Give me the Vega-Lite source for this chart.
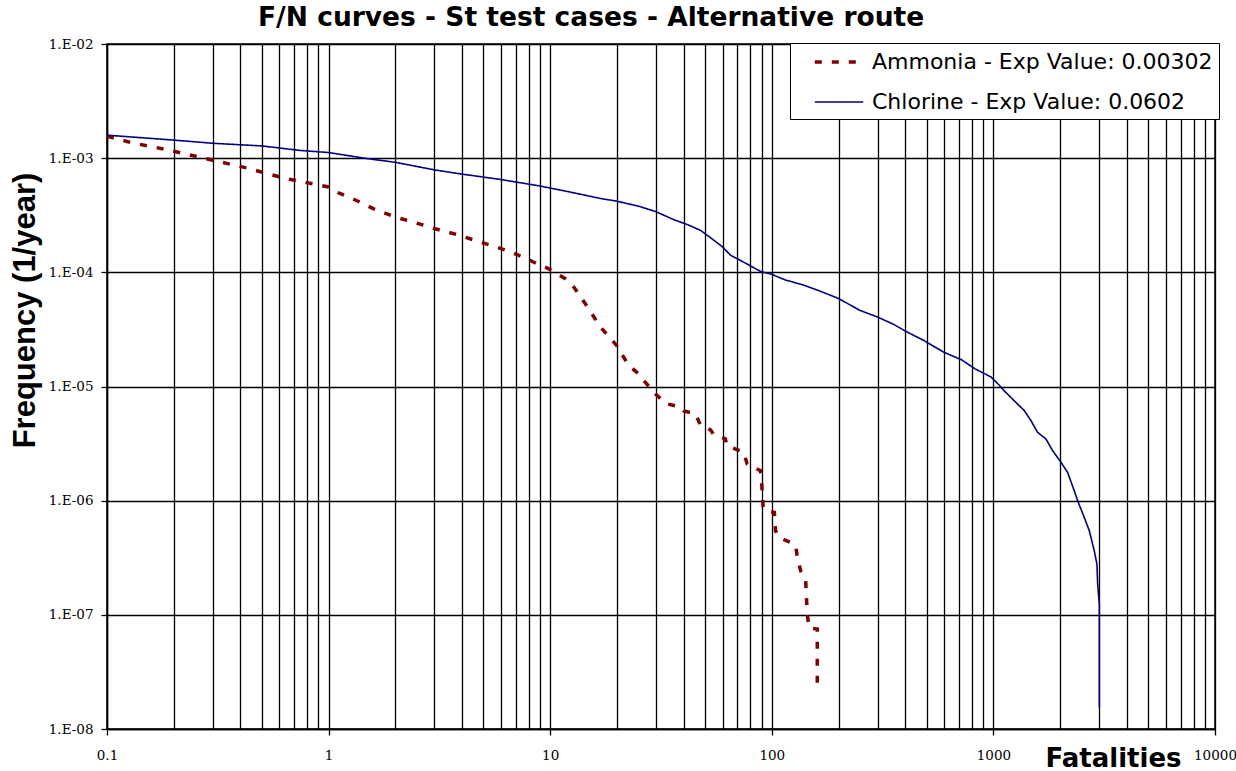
{
  "$schema": "https://vega.github.io/schema/vega-lite/v6.json",
  "width": 1108,
  "height": 685,
  "autosize": {"type": "none"},
  "padding": {"left": 107, "top": 44, "right": 21, "bottom": 42},
  "background": "white",
  "title": {
    "text": "F/N curves - St test cases - Alternative route",
    "anchor": "start",
    "frame": "group",
    "dx": 151,
    "dy": 33,
    "offset": 18,
    "baseline": "alphabetic",
    "font": "DejaVu Sans",
    "fontSize": 26.5,
    "fontWeight": "bold",
    "color": "black"
  },
  "config": {
    "view": {"stroke": "black", "strokeWidth": 1.5},
    "axis": {
      "domainColor": "black",
      "domainWidth": 1.5,
      "tickColor": "black",
      "tickWidth": 1.3,
      "tickSize": 6,
      "grid": true,
      "gridColor": "black",
      "gridOpacity": 1,
      "gridWidth": 1.3,
      "labelFont": "DejaVu Serif",
      "labelFontSize": 13.5,
      "labelColor": "black",
      "labelOverlap": false,
      "labelFlush": false,
      "titleColor": "black"
    }
  },
  "data": {
    "values": [
      {"series": "Ammonia - Exp Value: 0.00302", "i": 1, "n": 0.1, "f": 0.00156},
      {"series": "Ammonia - Exp Value: 0.00302", "i": 2, "n": 0.13, "f": 0.00136},
      {"series": "Ammonia - Exp Value: 0.00302", "i": 3, "n": 0.16, "f": 0.00126},
      {"series": "Ammonia - Exp Value: 0.00302", "i": 4, "n": 0.2, "f": 0.00115},
      {"series": "Ammonia - Exp Value: 0.00302", "i": 5, "n": 0.24, "f": 0.00106},
      {"series": "Ammonia - Exp Value: 0.00302", "i": 6, "n": 0.3, "f": 0.00096},
      {"series": "Ammonia - Exp Value: 0.00302", "i": 7, "n": 0.36, "f": 0.000885},
      {"series": "Ammonia - Exp Value: 0.00302", "i": 8, "n": 0.44, "f": 0.00081},
      {"series": "Ammonia - Exp Value: 0.00302", "i": 9, "n": 0.53, "f": 0.00073},
      {"series": "Ammonia - Exp Value: 0.00302", "i": 10, "n": 0.65, "f": 0.00066},
      {"series": "Ammonia - Exp Value: 0.00302", "i": 11, "n": 0.8, "f": 0.00061},
      {"series": "Ammonia - Exp Value: 0.00302", "i": 12, "n": 1.0, "f": 0.00056},
      {"series": "Ammonia - Exp Value: 0.00302", "i": 13, "n": 1.1, "f": 0.0005},
      {"series": "Ammonia - Exp Value: 0.00302", "i": 14, "n": 1.32, "f": 0.00043},
      {"series": "Ammonia - Exp Value: 0.00302", "i": 15, "n": 1.6, "f": 0.00036},
      {"series": "Ammonia - Exp Value: 0.00302", "i": 16, "n": 2.0, "f": 0.000305},
      {"series": "Ammonia - Exp Value: 0.00302", "i": 17, "n": 2.4, "f": 0.000276},
      {"series": "Ammonia - Exp Value: 0.00302", "i": 18, "n": 3.0, "f": 0.000242},
      {"series": "Ammonia - Exp Value: 0.00302", "i": 19, "n": 3.9, "f": 0.000211},
      {"series": "Ammonia - Exp Value: 0.00302", "i": 20, "n": 4.8, "f": 0.000185},
      {"series": "Ammonia - Exp Value: 0.00302", "i": 21, "n": 5.8, "f": 0.000165},
      {"series": "Ammonia - Exp Value: 0.00302", "i": 22, "n": 6.8, "f": 0.000148},
      {"series": "Ammonia - Exp Value: 0.00302", "i": 23, "n": 7.8, "f": 0.000132},
      {"series": "Ammonia - Exp Value: 0.00302", "i": 24, "n": 8.7, "f": 0.000119},
      {"series": "Ammonia - Exp Value: 0.00302", "i": 25, "n": 9.8, "f": 0.000108},
      {"series": "Ammonia - Exp Value: 0.00302", "i": 26, "n": 11.7, "f": 0.000088},
      {"series": "Ammonia - Exp Value: 0.00302", "i": 27, "n": 12.8, "f": 0.000074},
      {"series": "Ammonia - Exp Value: 0.00302", "i": 28, "n": 14.7, "f": 0.00005},
      {"series": "Ammonia - Exp Value: 0.00302", "i": 29, "n": 16.9, "f": 0.000033},
      {"series": "Ammonia - Exp Value: 0.00302", "i": 30, "n": 19.9, "f": 0.000023},
      {"series": "Ammonia - Exp Value: 0.00302", "i": 31, "n": 22.6, "f": 0.0000153},
      {"series": "Ammonia - Exp Value: 0.00302", "i": 32, "n": 25.1, "f": 0.0000129},
      {"series": "Ammonia - Exp Value: 0.00302", "i": 33, "n": 26.4, "f": 0.0000113},
      {"series": "Ammonia - Exp Value: 0.00302", "i": 34, "n": 29.9, "f": 0.0000086},
      {"series": "Ammonia - Exp Value: 0.00302", "i": 35, "n": 33.1, "f": 0.0000071},
      {"series": "Ammonia - Exp Value: 0.00302", "i": 36, "n": 38.7, "f": 0.0000066},
      {"series": "Ammonia - Exp Value: 0.00302", "i": 37, "n": 40.1, "f": 0.0000061},
      {"series": "Ammonia - Exp Value: 0.00302", "i": 38, "n": 45.3, "f": 0.00000575},
      {"series": "Ammonia - Exp Value: 0.00302", "i": 39, "n": 47.7, "f": 0.00000455},
      {"series": "Ammonia - Exp Value: 0.00302", "i": 40, "n": 52.9, "f": 0.00000417},
      {"series": "Ammonia - Exp Value: 0.00302", "i": 41, "n": 54.7, "f": 0.0000038},
      {"series": "Ammonia - Exp Value: 0.00302", "i": 42, "n": 61.7, "f": 0.00000348},
      {"series": "Ammonia - Exp Value: 0.00302", "i": 43, "n": 62.8, "f": 0.00000303},
      {"series": "Ammonia - Exp Value: 0.00302", "i": 44, "n": 74.7, "f": 0.00000265},
      {"series": "Ammonia - Exp Value: 0.00302", "i": 45, "n": 77.4, "f": 0.0000021},
      {"series": "Ammonia - Exp Value: 0.00302", "i": 46, "n": 88.9, "f": 0.00000183},
      {"series": "Ammonia - Exp Value: 0.00302", "i": 47, "n": 90.0, "f": 0.0000015},
      {"series": "Ammonia - Exp Value: 0.00302", "i": 48, "n": 90.4, "f": 0.00000122},
      {"series": "Ammonia - Exp Value: 0.00302", "i": 49, "n": 91.4, "f": 0.00000087},
      {"series": "Ammonia - Exp Value: 0.00302", "i": 50, "n": 93.6, "f": 0.00000082},
      {"series": "Ammonia - Exp Value: 0.00302", "i": 51, "n": 102.7, "f": 0.00000079},
      {"series": "Ammonia - Exp Value: 0.00302", "i": 52, "n": 103.9, "f": 0.000000546},
      {"series": "Ammonia - Exp Value: 0.00302", "i": 53, "n": 107.6, "f": 0.000000478},
      {"series": "Ammonia - Exp Value: 0.00302", "i": 54, "n": 121.6, "f": 0.00000043},
      {"series": "Ammonia - Exp Value: 0.00302", "i": 55, "n": 128.2, "f": 0.000000403},
      {"series": "Ammonia - Exp Value: 0.00302", "i": 56, "n": 130.4, "f": 0.000000318},
      {"series": "Ammonia - Exp Value: 0.00302", "i": 57, "n": 135, "f": 0.000000243},
      {"series": "Ammonia - Exp Value: 0.00302", "i": 58, "n": 142.2, "f": 0.000000199},
      {"series": "Ammonia - Exp Value: 0.00302", "i": 59, "n": 144.6, "f": 0.000000101},
      {"series": "Ammonia - Exp Value: 0.00302", "i": 60, "n": 147.1, "f": 0.000000077},
      {"series": "Ammonia - Exp Value: 0.00302", "i": 61, "n": 160.4, "f": 0.000000075},
      {"series": "Ammonia - Exp Value: 0.00302", "i": 62, "n": 160.4, "f": 0.0000000246},
      {"series": "Chlorine - Exp Value: 0.0602", "i": 1, "n": 0.1, "f": 0.00159},
      {"series": "Chlorine - Exp Value: 0.0602", "i": 2, "n": 0.2, "f": 0.00144},
      {"series": "Chlorine - Exp Value: 0.0602", "i": 3, "n": 0.3, "f": 0.00135},
      {"series": "Chlorine - Exp Value: 0.0602", "i": 4, "n": 0.5, "f": 0.00128},
      {"series": "Chlorine - Exp Value: 0.0602", "i": 5, "n": 0.74, "f": 0.00117},
      {"series": "Chlorine - Exp Value: 0.0602", "i": 6, "n": 1.0, "f": 0.00112},
      {"series": "Chlorine - Exp Value: 0.0602", "i": 7, "n": 1.5, "f": 0.00099},
      {"series": "Chlorine - Exp Value: 0.0602", "i": 8, "n": 2.0, "f": 0.00092},
      {"series": "Chlorine - Exp Value: 0.0602", "i": 9, "n": 3.0, "f": 0.00079},
      {"series": "Chlorine - Exp Value: 0.0602", "i": 10, "n": 3.9, "f": 0.00073},
      {"series": "Chlorine - Exp Value: 0.0602", "i": 11, "n": 6.0, "f": 0.00065},
      {"series": "Chlorine - Exp Value: 0.0602", "i": 12, "n": 9.0, "f": 0.00057},
      {"series": "Chlorine - Exp Value: 0.0602", "i": 13, "n": 12, "f": 0.00051},
      {"series": "Chlorine - Exp Value: 0.0602", "i": 14, "n": 16.9, "f": 0.000443},
      {"series": "Chlorine - Exp Value: 0.0602", "i": 15, "n": 20, "f": 0.00042},
      {"series": "Chlorine - Exp Value: 0.0602", "i": 16, "n": 25, "f": 0.00038},
      {"series": "Chlorine - Exp Value: 0.0602", "i": 17, "n": 30, "f": 0.00034},
      {"series": "Chlorine - Exp Value: 0.0602", "i": 18, "n": 36, "f": 0.00029},
      {"series": "Chlorine - Exp Value: 0.0602", "i": 19, "n": 42, "f": 0.00026},
      {"series": "Chlorine - Exp Value: 0.0602", "i": 20, "n": 47.7, "f": 0.000233},
      {"series": "Chlorine - Exp Value: 0.0602", "i": 21, "n": 54, "f": 0.000195},
      {"series": "Chlorine - Exp Value: 0.0602", "i": 22, "n": 59.7, "f": 0.000168},
      {"series": "Chlorine - Exp Value: 0.0602", "i": 23, "n": 65.2, "f": 0.000141},
      {"series": "Chlorine - Exp Value: 0.0602", "i": 24, "n": 72.3, "f": 0.000127},
      {"series": "Chlorine - Exp Value: 0.0602", "i": 25, "n": 88.9, "f": 0.000102},
      {"series": "Chlorine - Exp Value: 0.0602", "i": 26, "n": 100, "f": 0.000096},
      {"series": "Chlorine - Exp Value: 0.0602", "i": 27, "n": 114.6, "f": 0.000086},
      {"series": "Chlorine - Exp Value: 0.0602", "i": 28, "n": 140, "f": 0.000077},
      {"series": "Chlorine - Exp Value: 0.0602", "i": 29, "n": 165, "f": 0.0000685},
      {"series": "Chlorine - Exp Value: 0.0602", "i": 30, "n": 200, "f": 0.000059},
      {"series": "Chlorine - Exp Value: 0.0602", "i": 31, "n": 250, "f": 0.0000464},
      {"series": "Chlorine - Exp Value: 0.0602", "i": 32, "n": 300, "f": 0.0000406},
      {"series": "Chlorine - Exp Value: 0.0602", "i": 33, "n": 355, "f": 0.000035},
      {"series": "Chlorine - Exp Value: 0.0602", "i": 34, "n": 400, "f": 0.0000306},
      {"series": "Chlorine - Exp Value: 0.0602", "i": 35, "n": 485, "f": 0.0000253},
      {"series": "Chlorine - Exp Value: 0.0602", "i": 36, "n": 596, "f": 0.00002},
      {"series": "Chlorine - Exp Value: 0.0602", "i": 37, "n": 720, "f": 0.0000171},
      {"series": "Chlorine - Exp Value: 0.0602", "i": 38, "n": 825, "f": 0.0000143},
      {"series": "Chlorine - Exp Value: 0.0602", "i": 39, "n": 977, "f": 0.0000121},
      {"series": "Chlorine - Exp Value: 0.0602", "i": 40, "n": 1066, "f": 0.0000102},
      {"series": "Chlorine - Exp Value: 0.0602", "i": 41, "n": 1117, "f": 0.0000092},
      {"series": "Chlorine - Exp Value: 0.0602", "i": 42, "n": 1241, "f": 0.0000075},
      {"series": "Chlorine - Exp Value: 0.0602", "i": 43, "n": 1377, "f": 0.00000617},
      {"series": "Chlorine - Exp Value: 0.0602", "i": 44, "n": 1476, "f": 0.00000504},
      {"series": "Chlorine - Exp Value: 0.0602", "i": 45, "n": 1582, "f": 0.00000397},
      {"series": "Chlorine - Exp Value: 0.0602", "i": 46, "n": 1726, "f": 0.00000347},
      {"series": "Chlorine - Exp Value: 0.0602", "i": 47, "n": 1849, "f": 0.00000275},
      {"series": "Chlorine - Exp Value: 0.0602", "i": 48, "n": 2017, "f": 0.00000217},
      {"series": "Chlorine - Exp Value: 0.0602", "i": 49, "n": 2162, "f": 0.00000177},
      {"series": "Chlorine - Exp Value: 0.0602", "i": 50, "n": 2317, "f": 0.00000122},
      {"series": "Chlorine - Exp Value: 0.0602", "i": 51, "n": 2399, "f": 0.000001},
      {"series": "Chlorine - Exp Value: 0.0602", "i": 52, "n": 2570, "f": 0.000000714},
      {"series": "Chlorine - Exp Value: 0.0602", "i": 53, "n": 2708, "f": 0.000000546},
      {"series": "Chlorine - Exp Value: 0.0602", "i": 54, "n": 2852, "f": 0.000000364},
      {"series": "Chlorine - Exp Value: 0.0602", "i": 55, "n": 2932, "f": 0.000000278},
      {"series": "Chlorine - Exp Value: 0.0602", "i": 56, "n": 2954, "f": 0.000000186},
      {"series": "Chlorine - Exp Value: 0.0602", "i": 57, "n": 3007, "f": 0.000000124},
      {"series": "Chlorine - Exp Value: 0.0602", "i": 58, "n": 3007, "f": 0.0000000483},
      {"series": "Chlorine - Exp Value: 0.0602", "i": 59, "n": 3007, "f": 0.0000000154}
    ]
  },
  "mark": {"type": "line", "interpolate": "linear", "clip": true},
  "encoding": {
    "x": {
      "field": "n",
      "type": "quantitative",
      "scale": {"type": "log", "domain": [0.1, 10000], "nice": false},
      "axis": {
        "values": [0.1, 0.2, 0.3, 0.4, 0.5, 0.6, 0.7, 0.8, 0.9, 1, 2, 3, 4, 5, 6, 7, 8, 9, 10, 20, 30, 40, 50, 60, 70, 80, 90, 100, 200, 300, 400, 500, 600, 700, 800, 900, 1000, 2000, 3000, 4000, 5000, 6000, 7000, 8000, 9000, 10000],
        "labelExpr": "abs(log(datum.value)/LN10 - round(log(datum.value)/LN10)) < 0.001 ? (datum.value < 1 ? '0.1' : format(datum.value, 'd')) : ''",
        "tickOpacity": {"condition": {"test": "abs(log(datum.value)/LN10 - round(log(datum.value)/LN10)) < 0.001", "value": 1}, "value": 0},
        "labelPadding": 13,
        "title": "Fatalities",
        "titleFont": "DejaVu Sans",
        "titleFontSize": 26,
        "titleFontWeight": "bold",
        "titleX": 1006,
        "titleY": 37,
        "titleAlign": "center",
        "titleBaseline": "alphabetic"
      }
    },
    "y": {
      "field": "f",
      "type": "quantitative",
      "scale": {"type": "log", "domain": [1e-8, 0.01], "nice": false},
      "axis": {
        "values": [1e-8, 1e-7, 1e-6, 1e-5, 1e-4, 0.001, 0.01],
        "labelExpr": "'1.E-0' + round(-log(datum.value)/LN10)",
        "labelPadding": 8,
        "title": "Frequency (1/year)",
        "titleFont": "Liberation Sans",
        "titleFontSize": 31,
        "titleFontWeight": "bold",
        "titleAngle": 270,
        "titleX": -73,
        "titleY": 266,
        "titleAlign": "center",
        "titleBaseline": "alphabetic"
      }
    },
    "color": {
      "field": "series",
      "type": "nominal",
      "scale": {"range": ["#800000", "#000080"]},
      "legend": {
        "title": null,
        "orient": "none",
        "legendX": 683,
        "legendY": -1,
        "fillColor": "white",
        "strokeColor": "black",
        "padding": 6,
        "symbolOffset": 30,
        "labelOffset": 20,
        "rowPadding": 17,
        "symbolType": "M-2.2,0H2.2",
        "symbolSize": 484,
        "labelFont": "DejaVu Sans",
        "labelFontSize": 22,
        "labelColor": "black",
        "labelLimit": 0
      }
    },
    "strokeDash": {
      "field": "series",
      "type": "nominal",
      "scale": {"range": [[7, 10], [1, 0]]}
    },
    "strokeWidth": {
      "field": "series",
      "type": "nominal",
      "scale": {"range": [3.5, 1.6]}
    },
    "order": {"field": "i"}
  }
}
